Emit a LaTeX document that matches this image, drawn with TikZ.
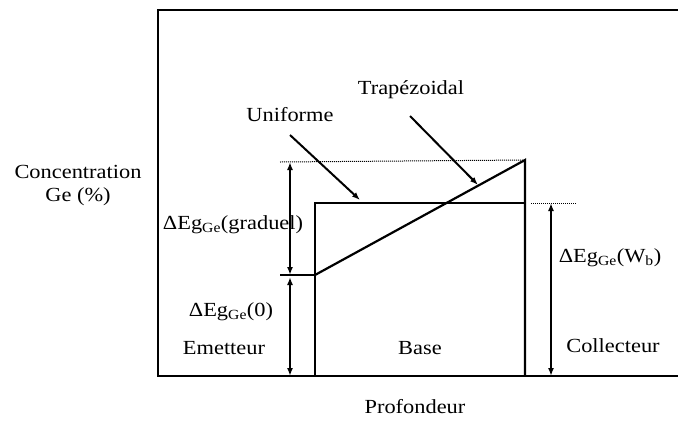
\documentclass[tikz,border=0pt]{standalone}
\usepackage{fontspec}
\setmainfont{Liberation Serif}[FakeStretch=1.12]
\usetikzlibrary{arrows.meta, positioning, calc}
\newcommand{\dEgGe}{ΔEg\textsubscript{Ge}}

\begin{document}
\begin{tikzpicture}[
  x=1pt, y=-1pt,
  >={Latex[length=8pt, width=6pt]},
  axis/.style={line width=2.4pt, black},
  profil/.style={line width=2.2pt, black},
  cote/.style={<->, line width=1.6pt},
  repere/.style={densely dotted, line width=1pt},
  pointer/.style={->, line width=2pt},
  lbl/.style={font=\fontsize{20}{23}\selectfont, inner sep=1pt, align=center},
]
\useasboundingbox (0,0) rectangle (678,421);

% =============================================
% Frame (axes)
% =============================================
\coordinate (tl) at (158,10);
\coordinate (tr) at (678,10);
\coordinate (bl) at (158,376);
\coordinate (br) at (678,376);
\draw[axis] (tr) -- (tl) -- (bl) -- (br);

% =============================================
% Germanium profiles
% =============================================
\coordinate (b0) at (315,376);
\coordinate (u0) at (315,203);
\coordinate (t0) at (315,275);
\coordinate (t1) at (525,160);
\coordinate (u1) at (525,203);
\coordinate (b1) at (525,376);
\draw[profil] (b0) -- (u0) -- (u1);
\draw[profil] (t0) -- (t1) -- (b1);

% Reference levels
\coordinate (lvlTop) at (280,162);
\coordinate (lvlLow) at (280,275);
\coordinate (lvlW) at (576,203);
\draw[repere] (lvlTop) -- (t1);
\draw[line width=1.2pt] (lvlLow) -- (t0);
\draw[repere] ($(u1)+(6,0)$) -- (lvlW);

% =============================================
% Dimension arrows
% =============================================
\draw[cote] (290,162) -- (290,275);
\draw[cote] (290,277) -- (290,376);
\draw[cote] (551,203) -- (551,376);

% =============================================
% Labels
% =============================================
\node[lbl] (ylab) at (78,186) {Concentration\\Ge (\%)};
\node[lbl] (xlab) at (415,407) {Profondeur};

\node[lbl] (grad) at (233,225) {\dEgGe(graduel)};
\node[lbl] (zero) at (231,312) {\dEgGe(0)};
\node[lbl] (wb) at (610,258) {\dEgGe(W\textsubscript{b})};

\node[lbl] (emet) at (224,348) {Emetteur};
\node[lbl] (base) at (420,348) {Base};
\node[lbl] (coll) at (613,346) {Collecteur};

\node[lbl] (unif) at (290,115) {Uniforme};
\node[lbl] (trap) at (411,90) {Trapézoidal};

% Pointers to the profiles
\coordinate (unifTip) at (360,200);
\coordinate (trapTip) at (478,185);
\draw[pointer] (290,135) -- (unifTip);
\draw[pointer] (410,116) -- (trapTip);

\end{tikzpicture}
\end{document}
